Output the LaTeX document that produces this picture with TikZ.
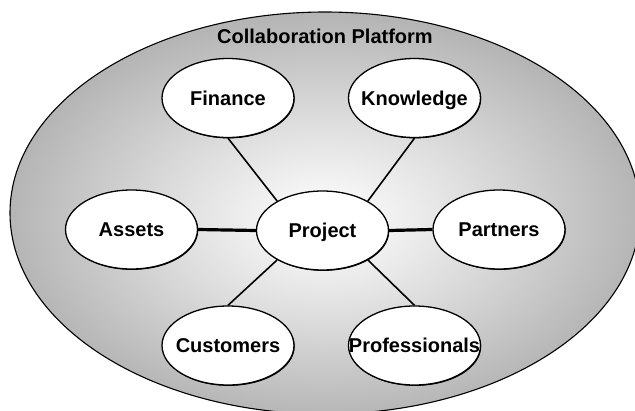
\documentclass[tikz,border=0pt]{standalone}
\usepackage{fontspec}
\setmainfont{Liberation Sans}
\usetikzlibrary{shapes.geometric,shadows}

% soft white-to-gray fill of the platform ellipse (path edge sits at 25bp)
\pgfdeclareradialshading{platformshade}{\pgfpoint{0bp}{-1bp}}{%
  color(0bp)=(white);
  color(3bp)=(white!97!black);
  color(12bp)=(white!87!black);
  color(25bp)=(white!71!black);
  color(50bp)=(white!70!black)}

\tikzset{
  bubble/.style={ellipse, draw=black, fill=white, line width=1.3pt,
    minimum width=132pt, minimum height=79pt, inner sep=0pt,
    text height=14.5pt, text depth=0pt,
    font=\fontsize{20}{24}\selectfont\bfseries,
    drop shadow={shadow xshift=0.7pt, shadow yshift=-0.9pt, opacity=1, fill=black}},
  spoke/.style={line width=1.6pt},
  bar/.style={line width=3.2pt},
  heading/.style={font=\fontsize{20}{24}\selectfont\bfseries, inner sep=0pt}
}

\begin{document}
\begin{tikzpicture}[x=1pt, y=-1pt]
  \useasboundingbox (0,0) rectangle (635,410);

  % the platform
  \path[shading=platformshade, draw=black, line width=1.1pt]
    (325,213) ellipse [x radius=315, y radius=201];
  \node[heading, anchor=base] (title) at (325,43) {Collaboration Platform};

  % the hub and its six partners
  \node[bubble] (proj) at (322.5,230.5) {\makebox[0pt]{Project}};
  \node[bubble] (fin)  at (228,98)      {\makebox[0pt]{Finance}};
  \node[bubble] (know) at (414.5,98)    {\makebox[0pt]{Knowledge}};
  \node[bubble] (ass)  at (131.5,229.5) {\makebox[0pt]{Assets}};
  \node[bubble] (part) at (499,229.5)   {\makebox[0pt]{Partners}};
  \node[bubble] (cust) at (228,345.5)   {\makebox[0pt]{Customers}};
  \node[bubble] (prof) at (414.5,345.5) {\makebox[0pt]{Professionals}};

  % connectors
  \draw[spoke] (fin.south)  -- (proj.147);
  \draw[spoke] (know.south) -- (proj.33);
  \draw[spoke] (cust.north) -- (proj.213);
  \draw[spoke] (prof.north) -- (proj.327);
  \draw[bar]   (ass.east)   -- (proj.west);
  \draw[bar]   (proj.east)  -- (part.west);
\end{tikzpicture}
\end{document}
